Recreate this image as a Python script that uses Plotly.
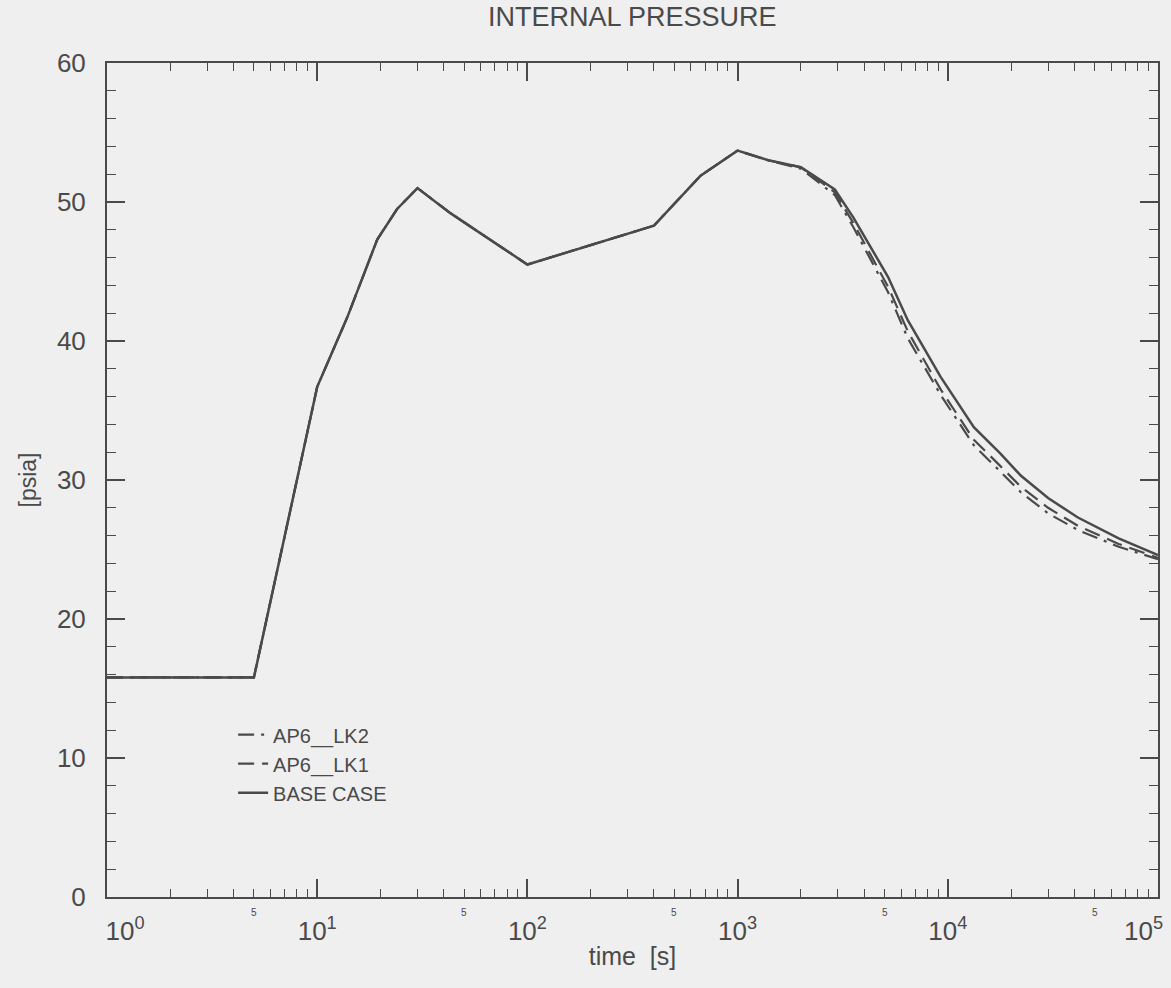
import math
import plotly.graph_objects as go

# time [s]
time_s = [1, 5, 10, 13.9, 19.3, 24, 30, 43, 100, 400, 667, 1000, 1400, 2000,
          2900, 3550, 5200, 6450, 9260, 13300, 17800, 22300, 30000, 41600, 65000, 100000]
# internal pressure [psia]
base_case = [15.8, 15.8, 36.7, 41.7, 47.3, 49.5, 51.0, 49.2, 45.5, 48.3, 51.9, 53.7, 53.0, 52.5,
             50.9, 48.9, 44.6, 41.5, 37.4, 33.8, 31.9, 30.3, 28.7, 27.3, 25.8, 24.6]
ap6_lk1 = [15.8, 15.8, 36.7, 41.7, 47.3, 49.5, 51.0, 49.2, 45.5, 48.3, 51.9, 53.7, 53.0, 52.5,
           50.7, 48.5, 43.9, 40.7, 36.5, 32.9, 31.0, 29.5, 28.0, 26.7, 25.4, 24.4]
ap6_lk2 = [15.8, 15.8, 36.7, 41.7, 47.3, 49.5, 51.0, 49.2, 45.5, 48.3, 51.9, 53.7, 53.0, 52.4,
           50.5, 48.2, 43.5, 40.2, 36.1, 32.5, 30.6, 29.1, 27.6, 26.4, 25.2, 24.3]

x_tickvals = [1, 10, 100, 1000, 10000, 100000]
x_ticktext = ["&nbsp;&nbsp;&nbsp;&nbsp;&nbsp;10<sup>0</sup>", "10<sup>1</sup>", "10<sup>2</sup>",
              "10<sup>3</sup>", "10<sup>4</sup>", "10<sup>5</sup>&nbsp;&nbsp;&nbsp;&nbsp;"]
y_tickvals = [0, 10, 20, 30, 40, 50, 60]
half_decades = [5, 50, 500, 5000, 50000]

INK = "#4a4a4a"
BG = "#efefef"
FONT = "Liberation Sans"

fig = go.Figure()
fig.add_trace(go.Scatter(x=time_s, y=ap6_lk2, mode="lines", name="AP6__LK2",
                         line=dict(color=INK, width=2.2, dash="16px,7px,3px,7px")))
fig.add_trace(go.Scatter(x=time_s, y=ap6_lk1, mode="lines", name="AP6__LK1",
                         line=dict(color=INK, width=2.2, dash="16px,8px")))
fig.add_trace(go.Scatter(x=time_s, y=base_case, mode="lines", name="BASE CASE",
                         line=dict(color=INK, width=2.5)))

for v in half_decades:
    fig.add_annotation(x=math.log10(v), y=0, xref="x", yref="y", text="5", showarrow=False,
                       yshift=-15, font=dict(size=10, color=INK, family=FONT))

fig.update_layout(
    width=1171, height=988,
    margin=dict(l=107, r=13, t=63, b=91, autoexpand=False),
    paper_bgcolor=BG, plot_bgcolor=BG,
    font=dict(family=FONT, color=INK),
    title=dict(text="INTERNAL PRESSURE", x=0.54, xanchor="center", y=0.993, yanchor="top",
               font=dict(size=27, color=INK, family=FONT)),
    showlegend=True,
    legend=dict(x=0.12, y=0.218, xanchor="left", yanchor="top", bgcolor="rgba(0,0,0,0)",
                font=dict(size=20, color=INK, family=FONT), traceorder="normal",
                tracegroupgap=0),
    xaxis=dict(type="log", range=[0, 5], tickvals=x_tickvals, ticktext=x_ticktext,
               automargin=False,
               showgrid=False, zeroline=False, showline=True, linecolor=INK, linewidth=2,
               mirror="allticks", ticks="inside", ticklen=18, tickwidth=1.6, tickcolor=INK,
               minor=dict(ticks="inside", ticklen=8, tickwidth=1.3, tickcolor=INK,
                          dtick="D1", showgrid=False),
               tickfont=dict(size=26, color=INK, family=FONT), ticklabelstandoff=10,
               ticklabeloverflow="allow",
               title=dict(text="time  [s]", font=dict(size=25, color=INK, family=FONT),
                          standoff=2)),
    yaxis=dict(range=[0, 60], tickvals=y_tickvals, automargin=False,
               showgrid=False, zeroline=False, showline=True, linecolor=INK, linewidth=2,
               mirror="allticks", ticks="inside", ticklen=18, tickwidth=1.6, tickcolor=INK,
               minor=dict(ticks="inside", ticklen=9, tickwidth=1.3, tickcolor=INK,
                          dtick=2, showgrid=False),
               tickfont=dict(size=26, color=INK, family=FONT), ticklabelstandoff=14,
               title=dict(text="[psia]", font=dict(size=23, color=INK, family=FONT),
                          standoff=14)),
)

fig.write_html("out.html")
